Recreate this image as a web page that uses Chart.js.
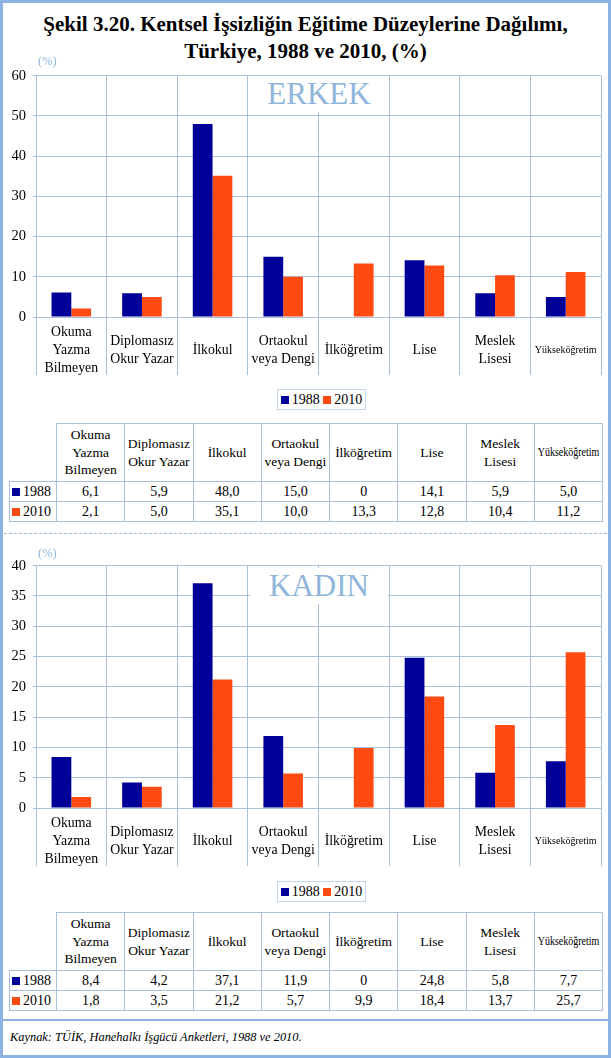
<!DOCTYPE html>
<html>
<head>
<meta charset="utf-8">
<script src="https://cdn.jsdelivr.net/npm/chart.js@4.4.0/dist/chart.umd.min.js"></script>
<style>
  body { margin:0; width:611px; height:1058px; position:relative; overflow:hidden; background:#fff;
         font-family:'Liberation Serif', serif; color:#000; }
  .frame { position:absolute; left:0; top:0; width:605px; height:1052px; border:3px solid #8db3e2; }
  .footline { position:absolute; left:0; top:1019px; width:611px; height:0; border-top:2px solid #8db3e2; }
  .title { position:absolute; left:0; top:11px; width:611px; text-align:center; font-weight:bold; font-size:21px; line-height:27px; }
  .sep { position:absolute; left:4px; top:533px; width:603px; border-top:1px dashed #9dbbe0; }
  canvas { position:absolute; left:0; }
  .pct { position:absolute; left:38px; font-size:12.5px; color:#8fb5db; }
  .big { position:absolute; left:250px; width:138px; height:36px; background:#fff; text-align:center;
         font-size:31px; line-height:36px; color:#8fb5db; }
  .legend { position:absolute; left:277px; width:87px; height:19px; border:1px solid #c5d5ea; font-size:14px;
            line-height:19px; text-align:center; }
  .sq { display:inline-block; width:8px; height:8px; margin-right:3px; vertical-align:0px; }
  table { position:absolute; left:9px; width:593px; border-collapse:collapse; table-layout:fixed; font-size:13.5px;
          font-family:'Liberation Serif', serif; }
  td { border:1px solid #a9c0dc; text-align:center; padding:0; line-height:17.5px; overflow:hidden; white-space:nowrap; }
  td.corner { border-top:none; border-left:none; }
  td.rl { text-align:left; padding-left:2px; font-size:14px; }
  td span.narrow { display:inline-block; font-size:12.5px; transform:scaleX(0.8); margin:0 -10px; }
  tr.head td { height:57px; }
  tr.row td { height:19px; line-height:19px; font-size:14px; }
  .src { position:absolute; left:10px; top:1030px; font-size:12.4px; font-style:italic; }
</style>
</head>
<body>
<div class="frame"></div>
<div class="footline"></div>
<div class="title">Şekil 3.20. Kentsel İşsizliğin Eğitime Düzeylerine Dağılımı,<br>Türkiye, 1988 ve 2010, (%)</div>

<canvas id="erkek" width="611" height="320" style="top:60px"></canvas>
<div class="pct" style="top:54px">(%)</div>
<div class="big" style="top:76px">ERKEK</div>
<div class="legend" style="top:389px"><span class="sq" style="background:#000099"></span>1988 <span class="sq" style="background:#ff4a12"></span>2010</div>
<table id="tabErkek" style="top:423px"></table>

<div class="sep"></div>

<canvas id="kadin" width="611" height="320" style="top:550px"></canvas>
<div class="pct" style="top:546px">(%)</div>
<div class="big" style="top:568px">KADIN</div>
<div class="legend" style="top:881px"><span class="sq" style="background:#000099"></span>1988 <span class="sq" style="background:#ff4a12"></span>2010</div>
<table id="tabKadin" style="top:912px"></table>

<div class="src">Kaynak: TÜİK, Hanehalkı İşgücü Anketleri, 1988 ve 2010.</div>

<script>
// kategoriler (grafik eksenindeki satir kirilimlari ile)
var categories = [
  ["Okuma","Yazma","Bilmeyen"], ["Diplomasız","Okur Yazar"], "İlkokul", ["Ortaokul","veya Dengi"],
  "İlköğretim", "Lise", ["Meslek","Lisesi"], "Yükseköğretim"
];
var years = ["1988", "2010"];

var erkek1988 = [6.1, 5.9, 48.0, 15.0, 0, 14.1, 5.9, 5.0];
var erkek2010 = [2.1, 5.0, 35.1, 10.0, 13.3, 12.8, 10.4, 11.2];
var kadin1988 = [8.4, 4.2, 37.1, 11.9, 0, 24.8, 5.8, 7.7];
var kadin2010 = [1.8, 3.5, 21.2, 5.7, 9.9, 18.4, 13.7, 25.7];

var erkekTicks = {max: 60, step: 10};
var kadinTicks = {max: 40, step: 5};

var colors = ['#000099', '#ff4a12'];
var GRID = '#a9c0dc';
var FONT = 'Liberation Serif';

Chart.defaults.font.family = FONT;

function makeChart(id, s1, s2, axis, padTop, padBottom){
  return new Chart(document.getElementById(id), {
    type: 'bar',
    data: {
      labels: categories,
      datasets: [
        {label: years[0], data: s1, backgroundColor: colors[0], borderWidth: 0},
        {label: years[1], data: s2, backgroundColor: colors[1], borderWidth: 0}
      ]
    },
    options: {
      responsive: false,
      animation: false,
      categoryPercentage: 0.56,
      barPercentage: 1.0,
      layout: {padding: {top: padTop, right: 10, bottom: padBottom, left: 0}},
      plugins: {legend: {display: false}, tooltip: {enabled: false}},
      scales: {
        x: {
          grid: {color: GRID, offset: true, tickLength: 58},
          border: {color: GRID},
          ticks: {
            color: '#000',
            padding: -43,
            autoSkip: false,
            maxRotation: 0,
            minRotation: 0,
            crossAlign: 'center',
            font: function(ctx){
              return ctx.index === 7 ? {family: FONT, size: 10, lineHeight: '18px'} : {family: FONT, size: 13.8, lineHeight: '18px'};
            }
          },
          afterFit: function(s){ s.height = 58; }
        },
        y: {
          min: 0, max: axis.max,
          grid: {color: GRID, tickLength: 3},
          border: {color: GRID},
          ticks: {stepSize: axis.step, color: '#000', padding: 7, font: {family: FONT, size: 14.5}},
          afterFit: function(s){ s.width = 36; }
        }
      }
    }
  });
}

makeChart('erkek', erkek1988, erkek2010, erkekTicks, 13, 5);
makeChart('kadin', kadin1988, kadin2010, kadinTicks, 15, 4);

// tablolar
function fmt(v){ return v === 0 ? '0' : v.toFixed(1).replace('.', ','); }

function buildTable(id, s1, s2){
  var t = document.getElementById(id);
  var html = '<colgroup><col style="width:47px">';
  for (var i = 0; i < categories.length; i++) html += '<col style="width:68.25px">';
  html += '</colgroup><tr class="head"><td class="corner"></td>';
  for (var i = 0; i < categories.length; i++){
    var c = categories[i];
    var txt = Array.isArray(c) ? c.join('<br>') : c;
    if (i === 7) txt = '<span class="narrow">' + txt + '</span>';
    html += '<td>' + txt + '</td>';
  }
  html += '</tr>';
  [s1, s2].forEach(function(s, k){
    html += '<tr class="row"><td class="rl"><span class="sq" style="background:' + colors[k] + '"></span>' + years[k] + '</td>';
    for (var i = 0; i < s.length; i++) html += '<td>' + fmt(s[i]) + '</td>';
    html += '</tr>';
  });
  t.innerHTML = html;
}
buildTable('tabErkek', erkek1988, erkek2010);
buildTable('tabKadin', kadin1988, kadin2010);
</script>
</body>
</html>
